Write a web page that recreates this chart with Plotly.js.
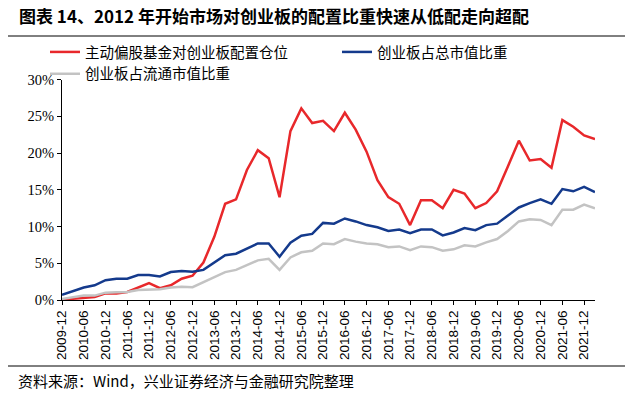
<!DOCTYPE html>
<html>
<head>
<meta charset="utf-8">
<script src="https://cdn.plot.ly/plotly-3.0.1.min.js"></script>
<style>html,body{margin:0;padding:0;background:#fff;}#chart{width:632px;height:393px;}</style>
</head>
<body>
<div id="chart"></div>
<script>
const dates = ["2009-12","2010-03","2010-06","2010-09","2010-12","2011-03","2011-06","2011-09","2011-12","2012-03",
  "2012-06","2012-09","2012-12","2013-03","2013-06","2013-09","2013-12","2014-03","2014-06","2014-09",
  "2014-12","2015-03","2015-06","2015-09","2015-12","2016-03","2016-06","2016-09","2016-12","2017-03",
  "2017-06","2017-09","2017-12","2018-03","2018-06","2018-09","2018-12","2019-03","2019-06","2019-09",
  "2019-12","2020-03","2020-06","2020-09","2020-12","2021-03","2021-06","2021-09","2021-12","2022-03"];
const tickLabels = ["2009-12","2010-06","2010-12","2011-06","2011-12","2012-06","2012-12","2013-06","2013-12",
  "2014-06","2014-12","2015-06","2015-12","2016-06","2016-12","2017-06","2017-12","2018-06","2018-12",
  "2019-06","2019-12","2020-06","2020-12","2021-06","2021-12"];
const fundWeight = [0.05,0.15,0.35,0.4,0.9,0.9,1.1,1.7,2.3,1.6,
  2.0,2.9,3.3,5.1,8.6,13.1,13.7,17.7,20.4,19.3,
  14.0,23.0,26.1,24.1,24.4,23.0,25.5,23.2,20.2,16.3,
  14.0,13.1,10.2,13.6,13.6,12.5,15.0,14.5,12.5,13.2,
  14.8,18.2,21.7,19.0,19.2,18.0,24.5,23.6,22.4,21.9];
const totalCapShare = [0.7,1.2,1.7,2.0,2.7,2.9,2.9,3.4,3.4,3.2,
  3.8,3.95,3.85,4.1,5.1,6.1,6.3,7.0,7.7,7.7,
  5.9,7.8,8.75,9.0,10.5,10.4,11.1,10.7,10.2,9.9,
  9.4,9.6,9.1,9.6,9.6,8.8,9.2,9.8,9.5,10.2,
  10.4,11.5,12.6,13.2,13.7,13.1,15.1,14.8,15.4,14.7];
const floatCapShare = [0.15,0.35,0.6,0.6,1.0,1.05,1.1,1.35,1.45,1.45,
  1.7,1.8,1.75,2.4,3.1,3.8,4.1,4.8,5.4,5.6,
  4.1,5.8,6.5,6.7,7.7,7.6,8.3,7.95,7.7,7.6,
  7.2,7.3,6.8,7.3,7.2,6.7,6.9,7.45,7.3,7.85,
  8.3,9.4,10.7,11.0,10.9,10.2,12.3,12.3,13.0,12.5];
const seriesNames = ["主动偏股基金对创业板配置仓位","创业板占总市值比重","创业板占流通市值比重"];
const titleText = "图表 14、2012 年开始市场对创业板的配置比重快速从低配走向超配";
const sourceText = "资料来源：Wind，兴业证券经济与金融研究院整理";

const cjk = "Noto Sans CJK SC";
const traces = [
  {x: dates, y: fundWeight, name: seriesNames[0], type: "scatter", mode: "lines", line: {color: "#E8282B", width: 2.5}},
  {x: dates, y: totalCapShare, name: seriesNames[1], type: "scatter", mode: "lines", line: {color: "#143A8C", width: 2.5}},
  {x: dates, y: floatCapShare, name: seriesNames[2], type: "scatter", mode: "lines", line: {color: "#C3C3C3", width: 2.5}}
];

const W = 632, H = 393;
const fx = v => v / W;          // page pixel -> paper x
const fy = v => 1 - v / H;      // page pixel -> paper y

const layout = {
  width: W, height: H,
  margin: {l: 0, r: 0, t: 0, b: 0, pad: 0},
  paper_bgcolor: "#fff", plot_bgcolor: "#fff",
  title: {text: "<b>" + titleText + "</b>", x: fx(19), xanchor: "left", xref: "container", y: fy(17), yref: "container", yanchor: "middle",
    font: {family: cjk, size: 17, color: "#000"}},
  showlegend: true,
  legend: {orientation: "h", x: fx(45), xanchor: "left", y: fy(36), yanchor: "top",
    entrywidth: 247, entrywidthmode: "pixels", font: {family: cjk, size: 14.5, color: "#000"},
    bgcolor: "rgba(0,0,0,0)", itemwidth: 30, traceorder: "normal"},
  xaxis: {domain: [fx(62), fx(595)], type: "category", range: [0, dates.length - 1], tickmode: "array", tickvals: tickLabels, ticktext: tickLabels,
    tickangle: -90, ticks: "outside", ticklen: 4, tickcolor: "#000", showline: true, linecolor: "#000", linewidth: 1,
    showgrid: false, zeroline: false, automargin: false, tickfont: {family: "Liberation Sans, Arial", size: 13.5, color: "#000"}},
  yaxis: {domain: [fy(300), fy(79.7)], range: [0, 30], dtick: 5, tick0: 0, ticksuffix: "%", ticks: "outside", ticklen: 4, tickcolor: "#000",
    showline: true, linecolor: "#000", linewidth: 1, showgrid: false, zeroline: false, automargin: false,
    tickfont: {family: "Liberation Serif, Times New Roman, serif", size: 14.5, color: "#000"}},
  shapes: [
    {type: "line", xref: "paper", yref: "paper", x0: fx(8), x1: fx(625), y0: fy(36), y1: fy(36), line: {color: "#000", width: 1}},
    {type: "line", xref: "paper", yref: "paper", x0: fx(8), x1: fx(625), y0: fy(366), y1: fy(366), line: {color: "#000", width: 1}}
  ],
  annotations: [
    {text: sourceText, xref: "paper", yref: "paper", x: fx(16), y: fy(380), xanchor: "left", yanchor: "middle",
      showarrow: false, font: {family: cjk, size: 15, color: "#000"}}
  ]
};

Plotly.newPlot("chart", traces, layout, {displayModeBar: false, staticPlot: true});
</script>
</body>
</html>
